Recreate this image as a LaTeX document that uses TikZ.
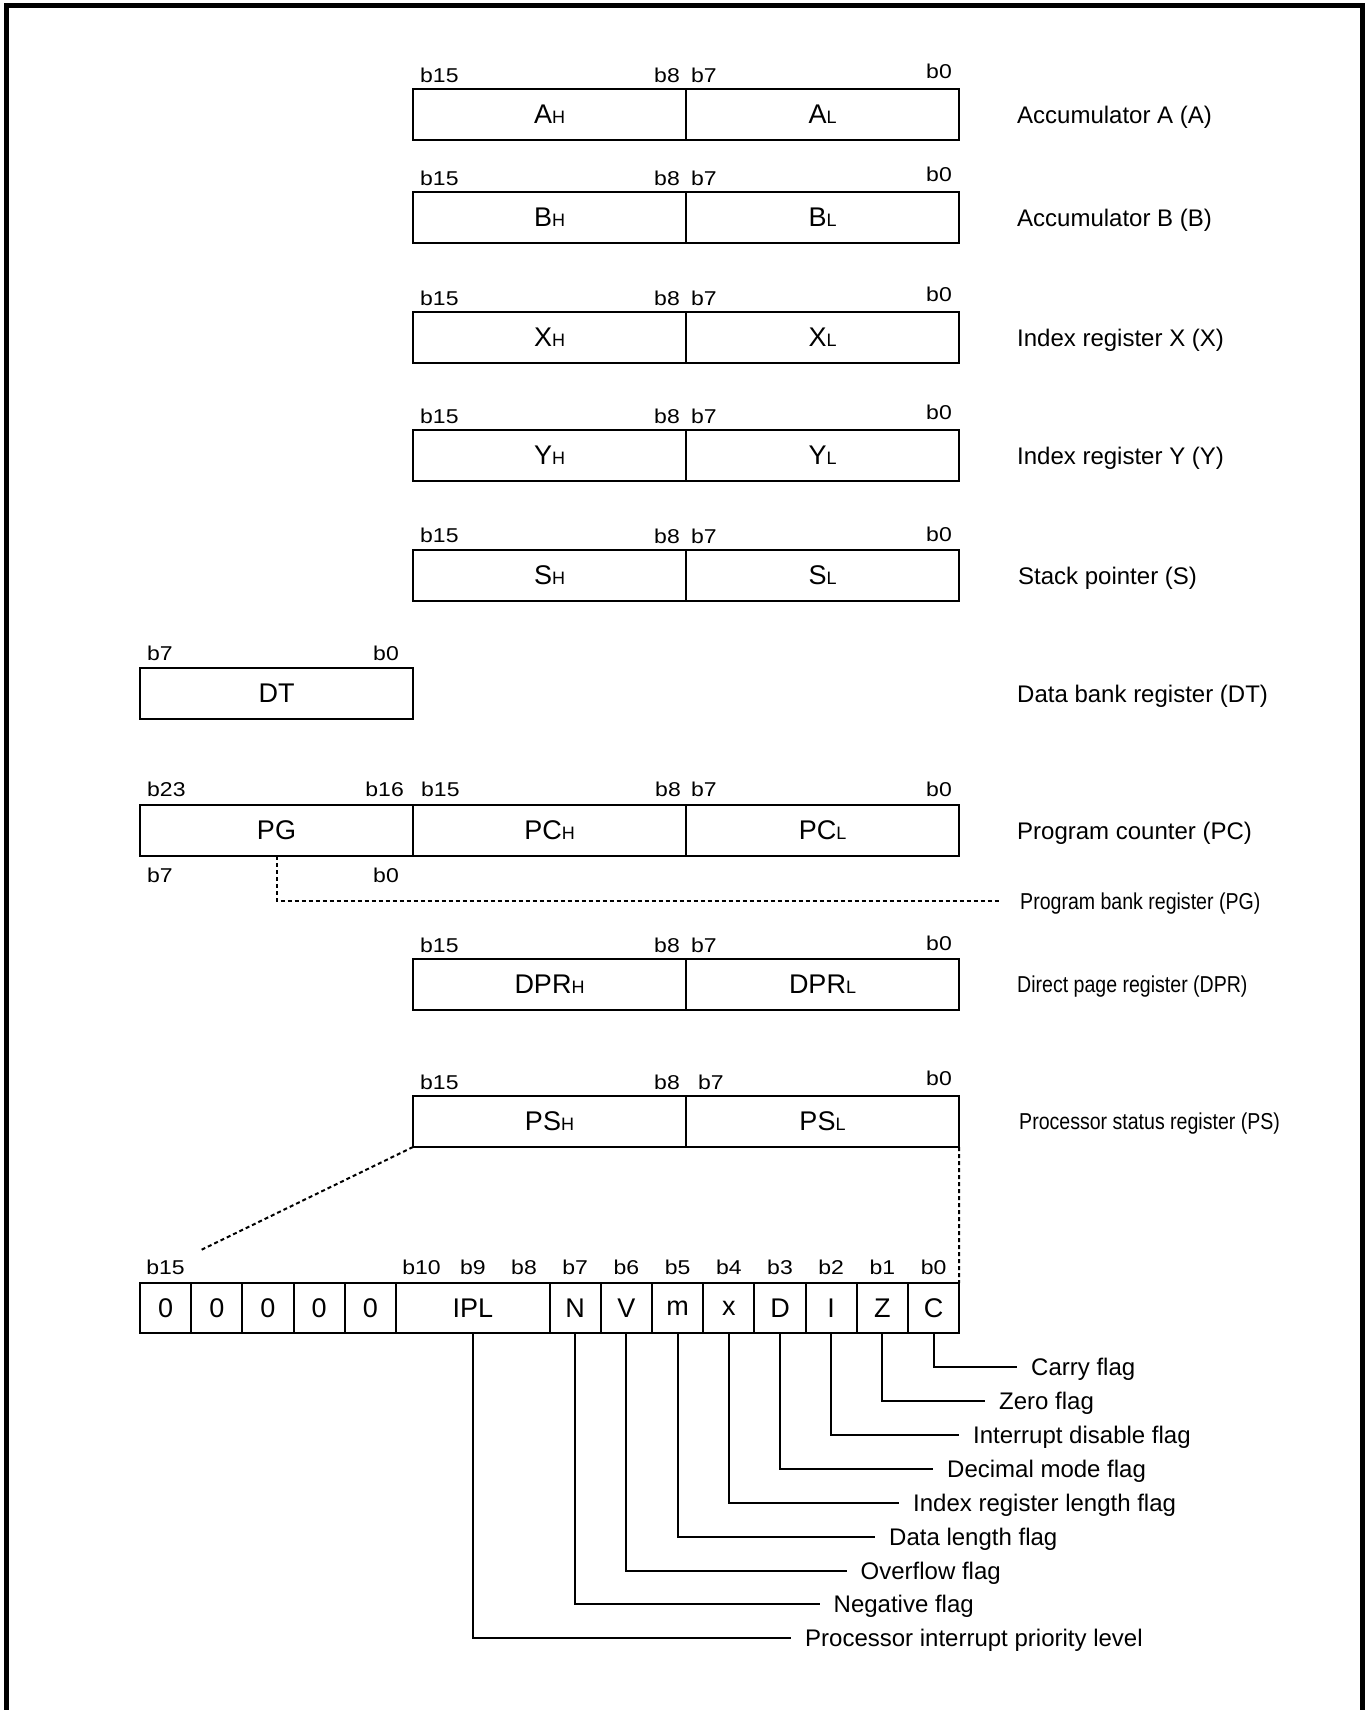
\documentclass[tikz,border=0pt]{standalone}
\usepackage{fontspec}
\setmainfont{Liberation Sans}
\newfontfamily\widesans{Liberation Sans}[FakeStretch=1.15]
\newfontfamily\narrowsans{Liberation Sans}[FakeStretch=0.85]
\newcommand{\lowpart}[1]{{\fontsize{18}{18}\selectfont #1}}
\usetikzlibrary{positioning}

\begin{document}
\begin{tikzpicture}[x=1pt, y=-1pt,
    reg/.style={draw, line width=2pt, outer sep=0pt, inner sep=0pt, minimum width=273pt, minimum height=51pt, font=\fontsize{27}{27}\selectfont},
    flagcell/.style={draw, line width=2pt, outer sep=0pt, inner sep=0pt, minimum width=51.2pt, minimum height=50pt, font=\fontsize{27}{27}\selectfont},
    bitlbl/.style={inner sep=0pt, font=\widesans\fontsize{20}{20}\selectfont},
    regname/.style={inner sep=0pt, text height=19pt, text depth=1pt, font=\fontsize{24}{28}\selectfont},
    narrowname/.style={inner sep=0pt, text height=17pt, text depth=1pt, font=\narrowsans\fontsize{23}{28}\selectfont},
    flagdesc/.style={anchor=west, inner xsep=14pt, inner ysep=0pt, text height=18pt, text depth=1pt, font=\fontsize{24}{28}\selectfont},
    lead/.style={line width=2pt},
    dots/.style={line width=2pt, dash pattern=on 4pt off 3pt},
  ]
  \useasboundingbox (0,0) rectangle (1370,1710);
  \draw[line width=5pt] (6,1710) -- (6,5.5) -- (1362.5,5.5) -- (1362.5,1710);

  % accumulator A
  \node[reg, anchor=north west] (ah) at (413,89) {A\lowpart{H}};
  \node[reg, right=0pt of ah] (al) {A\lowpart{L}};
  \node[bitlbl, above right=6pt and 7pt of ah.north west] (a15) {b15};
  \node[bitlbl, above left=6pt and 6pt of ah.north east]  (a8)  {b8};
  \node[bitlbl, above right=6pt and 5pt of al.north west] (a7)  {b7};
  \node[bitlbl, above left=10pt and 7pt of al.north east] (a0)  {b0};
  \node[regname, right=58pt of al] (aname) {Accumulator A (A)};

  % accumulator B
  \node[reg, anchor=north west] (bh) at (413,192) {B\lowpart{H}};
  \node[reg, right=0pt of bh] (bl) {B\lowpart{L}};
  \node[bitlbl, above right=6pt and 7pt of bh.north west] (b15) {b15};
  \node[bitlbl, above left=6pt and 6pt of bh.north east]  (b8)  {b8};
  \node[bitlbl, above right=6pt and 5pt of bl.north west] (b7)  {b7};
  \node[bitlbl, above left=10pt and 7pt of bl.north east] (b0)  {b0};
  \node[regname, right=58pt of bl] (bname) {Accumulator B (B)};

  % index X
  \node[reg, anchor=north west] (xh) at (413,312) {X\lowpart{H}};
  \node[reg, right=0pt of xh] (xl) {X\lowpart{L}};
  \node[bitlbl, above right=6pt and 7pt of xh.north west] (x15) {b15};
  \node[bitlbl, above left=6pt and 6pt of xh.north east]  (x8)  {b8};
  \node[bitlbl, above right=6pt and 5pt of xl.north west] (x7)  {b7};
  \node[bitlbl, above left=10pt and 7pt of xl.north east] (x0)  {b0};
  \node[regname, right=58pt of xl] (xname) {Index register X (X)};

  % index Y
  \node[reg, anchor=north west] (yh) at (413,430) {Y\lowpart{H}};
  \node[reg, right=0pt of yh] (yl) {Y\lowpart{L}};
  \node[bitlbl, above right=6pt and 7pt of yh.north west] (y15) {b15};
  \node[bitlbl, above left=6pt and 6pt of yh.north east]  (y8)  {b8};
  \node[bitlbl, above right=6pt and 5pt of yl.north west] (y7)  {b7};
  \node[bitlbl, above left=10pt and 7pt of yl.north east] (y0)  {b0};
  \node[regname, right=58pt of yl] (yname) {Index register Y (Y)};

  % stack pointer
  \node[reg, anchor=north west] (sh) at (413,550) {S\lowpart{H}};
  \node[reg, right=0pt of sh] (sl) {S\lowpart{L}};
  \node[bitlbl, above right=7pt and 7pt of sh.north west] (s15) {b15};
  \node[bitlbl, above left=6pt and 6pt of sh.north east]  (s8)  {b8};
  \node[bitlbl, above right=6pt and 5pt of sl.north west] (s7)  {b7};
  \node[bitlbl, above left=8pt and 7pt of sl.north east]  (s0)  {b0};
  \node[regname, right=59pt of sl] (sname) {Stack pointer (S)};

  % data bank
  \node[reg, anchor=north west] (dt) at (140,668) {DT};
  \node[bitlbl, above right=7pt and 7pt of dt.north west] (dt7) {b7};
  \node[bitlbl, above left=7pt and 14pt of dt.north east] (dt0) {b0};
  \node[regname, anchor=west] (dtname) at (aname.west |- dt) {Data bank register (DT)};

  % program counter
  \node[reg, anchor=north west] (pg) at (140,805) {PG};
  \node[reg, right=0pt of pg] (pch) {PC\lowpart{H}};
  \node[reg, right=0pt of pch] (pcl) {PC\lowpart{L}};
  \node[bitlbl, above right=8pt and 7pt of pg.north west]  (pc23) {b23};
  \node[bitlbl, above left=8pt and 9pt of pg.north east]   (pc16) {b16};
  \node[bitlbl, above right=8pt and 8pt of pch.north west] (pc15) {b15};
  \node[bitlbl, above left=8pt and 5pt of pch.north east]  (pc8)  {b8};
  \node[bitlbl, above right=8pt and 5pt of pcl.north west] (pc7)  {b7};
  \node[bitlbl, above left=8pt and 7pt of pcl.north east]  (pc0)  {b0};
  \node[bitlbl, below right=12pt and 7pt of pg.south west] (pg7)  {b7};
  \node[bitlbl, below left=12pt and 14pt of pg.south east] (pg0)  {b0};
  \node[regname, right=58pt of pcl] (pcname) {Program counter (PC)};
  \node[narrowname, anchor=west] (pgname) at (1020,901) {Program bank register (PG)};
  \draw[dots] (pg.south) |- ([xshift=-19pt]pgname.west);

  % direct page
  \node[reg, anchor=north west] (dprh) at (413,959) {DPR\lowpart{H}};
  \node[reg, right=0pt of dprh] (dprl) {DPR\lowpart{L}};
  \node[bitlbl, above right=6pt and 7pt of dprh.north west] (dpr15) {b15};
  \node[bitlbl, above left=6pt and 6pt of dprh.north east]  (dpr8)  {b8};
  \node[bitlbl, above right=6pt and 5pt of dprl.north west] (dpr7)  {b7};
  \node[bitlbl, above left=8pt and 7pt of dprl.north east]  (dpr0)  {b0};
  \node[narrowname, right=58pt of dprl] (dprname) {Direct page register (DPR)};

  % processor status
  \node[reg, anchor=north west] (psh) at (413,1096) {PS\lowpart{H}};
  \node[reg, right=0pt of psh] (psl) {PS\lowpart{L}};
  \node[bitlbl, above right=6pt and 7pt of psh.north west] (ps15) {b15};
  \node[bitlbl, above left=6pt and 6pt of psh.north east]  (ps8)  {b8};
  \node[bitlbl, above right=6pt and 12pt of psl.north west] (ps7) {b7};
  \node[bitlbl, above left=10pt and 7pt of psl.north east] (ps0)  {b0};
  \node[narrowname, right=60pt of psl] (psname) {Processor status register (PS)};

  % flag bits
  \node[flagcell, anchor=north west] (f15) at (140,1283) {0};
  \node[flagcell, right=0pt of f15] (f14) {0};
  \node[flagcell, right=0pt of f14] (f13) {0};
  \node[flagcell, right=0pt of f13] (f12) {0};
  \node[flagcell, right=0pt of f12] (f11) {0};
  \node[flagcell, right=0pt of f11, minimum width=153.6pt] (ipl) {IPL};
  \node[flagcell, right=0pt of ipl] (fn) {N};
  \node[flagcell, right=0pt of fn] (fv) {V};
  \node[flagcell, right=0pt of fv] (fm) {m};
  \node[flagcell, right=0pt of fm] (fx) {x};
  \node[flagcell, right=0pt of fx] (fd) {D};
  \node[flagcell, right=0pt of fd] (fi) {I};
  \node[flagcell, right=0pt of fi] (fz) {Z};
  \node[flagcell, right=0pt of fz] (fc) {C};
  \node[bitlbl, above=8pt of f15] (l15) {b15};
  \node[bitlbl, above=8pt of ipl, xshift=-51.2pt] (l10) {b10};
  \node[bitlbl, above=8pt of ipl] (l9) {b9};
  \node[bitlbl, above=8pt of ipl, xshift=51.2pt] (l8) {b8};
  \node[bitlbl, above=8pt of fn] (l7) {b7};
  \node[bitlbl, above=8pt of fv] (l6) {b6};
  \node[bitlbl, above=8pt of fm] (l5) {b5};
  \node[bitlbl, above=8pt of fx] (l4) {b4};
  \node[bitlbl, above=8pt of fd] (l3) {b3};
  \node[bitlbl, above=8pt of fi] (l2) {b2};
  \node[bitlbl, above=8pt of fz] (l1) {b1};
  \node[bitlbl, above=8pt of fc] (l0) {b0};

  \coordinate (psfan) at (201,1250);
  \draw[dots] (psh.south west) -- (psfan);
  \draw[dots] (psl.south east) -- (fc.north east);

  % flag meanings
  \node[flagdesc] (dc)   at (1017,1367) {Carry flag};
  \node[flagdesc] (dz)   at (985,1401)  {Zero flag};
  \node[flagdesc] (di)   at (959,1435)  {Interrupt disable flag};
  \node[flagdesc] (dd)   at (933,1469)  {Decimal mode flag};
  \node[flagdesc] (dx)   at (899,1503)  {Index register length flag};
  \node[flagdesc] (dm)   at (875,1537)  {Data length flag};
  \node[flagdesc] (dv)   at (846.5,1571) {Overflow flag};
  \node[flagdesc] (dn)   at (819.5,1604) {Negative flag};
  \node[flagdesc] (dipl) at (791,1638)  {Processor interrupt priority level};
  \draw[lead] (fc.south)  |- (dc.west);
  \draw[lead] (fz.south)  |- (dz.west);
  \draw[lead] (fi.south)  |- (di.west);
  \draw[lead] (fd.south)  |- (dd.west);
  \draw[lead] (fx.south)  |- (dx.west);
  \draw[lead] (fm.south)  |- (dm.west);
  \draw[lead] (fv.south)  |- (dv.west);
  \draw[lead] (fn.south)  |- (dn.west);
  \draw[lead] (ipl.south) |- (dipl.west);
\end{tikzpicture}
\end{document}
